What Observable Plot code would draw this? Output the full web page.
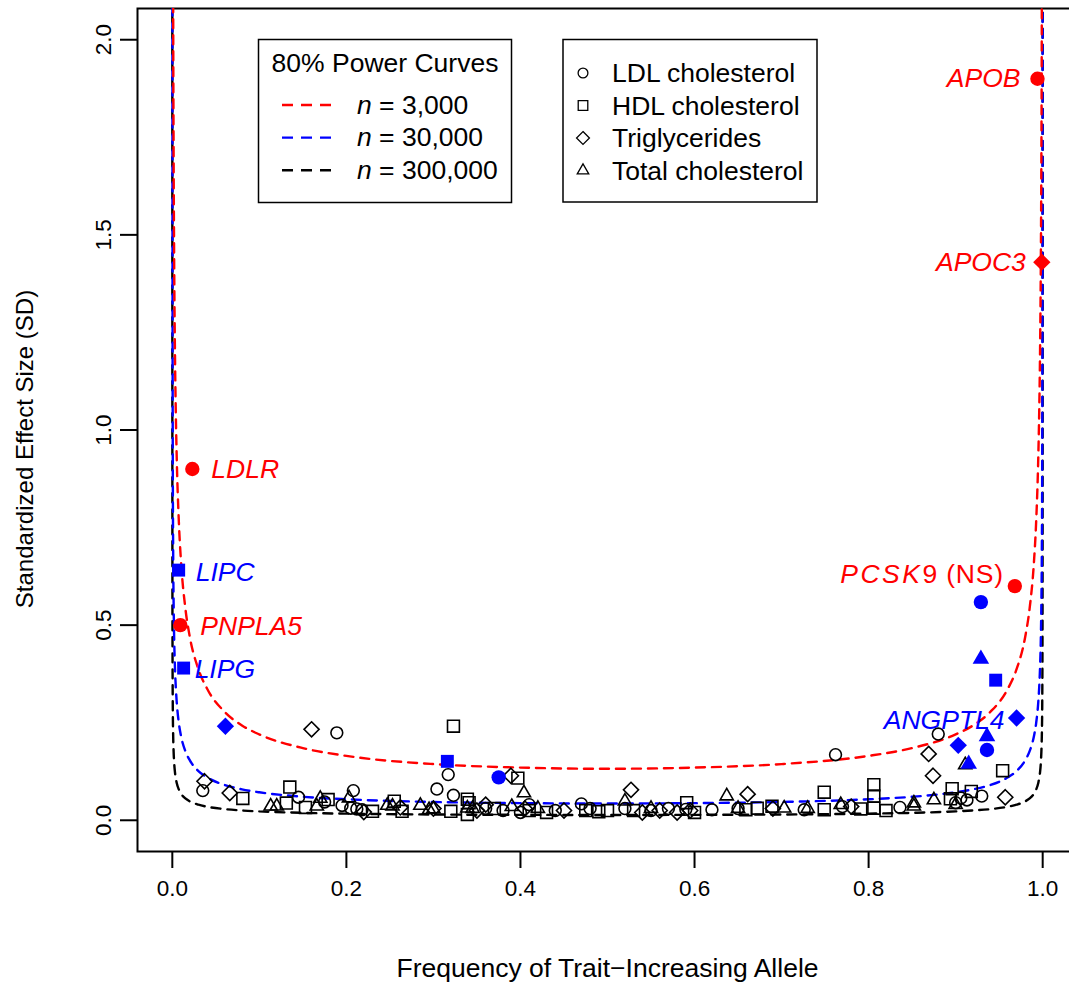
<!DOCTYPE html>
<html><head><meta charset="utf-8">
<script src="https://cdn.jsdelivr.net/npm/d3@7"></script>
<script src="https://cdn.jsdelivr.net/npm/@observablehq/plot@0.6"></script>
<style>
body{margin:0;background:#fff;}
#chart{position:relative;width:1069px;height:982px;overflow:hidden;background:#fff;}
#chart svg{overflow:hidden;}
</style></head><body><div id="chart"></div>
<script>
// ---- axis ticks ----
const xTicks = [0, 0.2, 0.4, 0.6, 0.8, 1.0];
const yTicks = [0, 0.5, 1.0, 1.5, 2.0];

// ---- 80% power curves ----
const curveFreq = [0.00001,0.00002,0.00005,0.0001,0.0002,0.0005,0.001,0.0015,0.002,0.003,0.004,0.005,0.0075,0.01,0.015,0.02,0.03,0.04,0.06,0.08,0.1,0.15,0.2,0.3,0.4,0.5,
  0.6,0.7,0.8,0.85,0.9,0.92,0.94,0.96,0.97,0.98,0.985,0.99,0.9925,0.995,0.996,0.997,0.998,0.9985,0.999,0.9995,0.9998,0.9999,0.99995,0.99998,0.99999];
const curveN3000 = [20.87,14.76,9.33,6.60,4.667,2.952,2.088,1.705,1.477,1.207,1.046,0.936,0.765,0.663,0.543,0.471,0.387,0.337,0.278,0.243,0.220,0.185,0.165,0.144,0.135,0.132,
  0.135,0.144,0.165,0.185,0.220,0.243,0.278,0.337,0.387,0.471,0.543,0.663,0.765,0.936,1.046,1.207,1.477,1.705,2.088,2.952,4.667,6.60,9.33,14.76,20.87];
const curveN30000 = [6.80,4.81,3.04,2.150,1.520,0.962,0.680,0.556,0.481,0.393,0.341,0.305,0.249,0.216,0.177,0.154,0.126,0.110,0.0905,0.0793,0.0717,0.0602,0.0538,0.0469,0.0439,0.0430,
  0.0439,0.0469,0.0538,0.0602,0.0717,0.0793,0.0905,0.110,0.126,0.154,0.177,0.216,0.249,0.305,0.341,0.393,0.481,0.556,0.680,0.962,1.520,2.150,3.04,4.81,6.80];
const curveN300000 = [2.150,1.521,0.962,0.680,0.481,0.304,0.215,0.176,0.152,0.124,0.108,0.0964,0.0788,0.0683,0.0559,0.0486,0.0399,0.0347,0.0286,0.0251,0.0227,0.0190,0.0170,0.0148,0.0139,0.0136,
  0.0139,0.0148,0.0170,0.0190,0.0227,0.0251,0.0286,0.0347,0.0399,0.0486,0.0559,0.0683,0.0788,0.0964,0.108,0.124,0.152,0.176,0.215,0.304,0.481,0.680,0.962,1.521,2.150];

// ---- known loci (open symbols) ----
const ldlFreq   = [0.035,0.145,0.175,0.189,0.195,0.208,0.205,0.212,0.218,0.304,0.317,0.323,0.36,0.38,0.40,0.41,0.44,0.47,0.48,0.52,0.55,0.57,0.59,0.62,0.65,0.726,0.762,0.77,0.836,0.88,0.906,0.913,0.93,0.90];
const ldlEffect = [0.076,0.059,0.047,0.224,0.038,0.076,0.031,0.029,0.027,0.080,0.117,0.064,0.030,0.025,0.020,0.040,0.025,0.042,0.030,0.030,0.025,0.030,0.028,0.027,0.030,0.027,0.168,0.035,0.033,0.221,0.057,0.052,0.062,0.045];
const hdlFreq   = [0.081,0.131,0.135,0.153,0.179,0.23,0.255,0.264,0.32,0.323,0.339,0.339,0.397,0.341,0.37,0.41,0.43,0.475,0.49,0.50,0.53,0.591,0.60,0.659,0.672,0.689,0.749,0.749,0.791,0.806,0.806,0.806,0.82,0.896,0.894,0.918,0.954];
const hdlEffect = [0.056,0.044,0.085,0.033,0.053,0.023,0.049,0.023,0.023,0.241,0.054,0.015,0.108,0.045,0.030,0.025,0.020,0.025,0.022,0.025,0.025,0.045,0.020,0.027,0.031,0.036,0.072,0.027,0.029,0.091,0.062,0.031,0.025,0.081,0.055,0.074,0.127];
const tgFreq    = [0.037,0.066,0.160,0.22,0.262,0.35,0.36,0.389,0.405,0.45,0.527,0.54,0.56,0.58,0.595,0.661,0.869,0.874,0.957,0.30,0.69,0.78];
const tgEffect  = [0.100,0.070,0.233,0.021,0.033,0.025,0.040,0.114,0.030,0.025,0.078,0.020,0.025,0.020,0.025,0.067,0.170,0.114,0.059,0.030,0.030,0.035];
const tcFreq    = [0.113,0.12,0.166,0.17,0.203,0.247,0.253,0.285,0.295,0.30,0.339,0.345,0.39,0.404,0.42,0.52,0.55,0.637,0.65,0.703,0.73,0.768,0.852,0.852,0.875,0.911,0.90];
const tcEffect  = [0.036,0.036,0.036,0.056,0.057,0.038,0.036,0.038,0.027,0.029,0.031,0.030,0.035,0.070,0.030,0.049,0.030,0.062,0.030,0.031,0.030,0.040,0.036,0.044,0.052,0.142,0.040];

// ---- newly highlighted loci (filled symbols) ----
const hiLabel  = ["APOB","APOC3","LDLR","PNPLA5","PCSK9 (NS)","LIPC","LIPG","","","","","","","ANGPTL4","","","",""];
const hiFreq   = [0.994,0.999,0.023,0.0092,0.968,0.0073,0.013,0.061,0.316,0.375,0.929,0.929,0.946,0.970,0.903,0.936,0.936,0.915];
const hiEffect = [1.90,1.43,0.90,0.50,0.60,0.641,0.39,0.241,0.151,0.110,0.559,0.413,0.359,0.262,0.192,0.215,0.180,0.144];
const hiTrait  = ["LDL","TG","LDL","LDL","LDL","HDL","HDL","TG","HDL","LDL","LDL","TC","HDL","TG","TG","TC","LDL","TC"];
const hiStudy  = ["n3000","n3000","n3000","n3000","n3000","n30000","n30000","n30000","n30000","n30000","n30000","n30000","n30000","n30000","n30000","n30000","n30000","n30000"];

// ---- legend texts ----
const powerTitle = "80% Power Curves";
const powerN = ["3,000","30,000","300,000"];
const traitNames = ["LDL cholesterol","HDL cholesterol","Triglycerides","Total cholesterol"];

// ---- build tables ----
const curves = [];
curveFreq.forEach((f,i)=>{
  curves.push({freq:f, effect:curveN3000[i], n:"n3000"});
  curves.push({freq:f, effect:curveN30000[i], n:"n30000"});
  curves.push({freq:f, effect:curveN300000[i], n:"n300000"});
});
const zip = (fs, es, t) => fs.map((f,i)=>({freq:f, effect:es[i], trait:t}));
const open = [...zip(ldlFreq,ldlEffect,"LDL"),...zip(hdlFreq,hdlEffect,"HDL"),...zip(tgFreq,tgEffect,"TG"),...zip(tcFreq,tcEffect,"TC")];
const hi = hiFreq.map((f,i)=>({freq:f, effect:hiEffect[i], trait:hiTrait[i], study:hiStudy[i], label:hiLabel[i]}));

const colors = {n3000:"#FF0000", n30000:"#0000FF", n300000:"#000000"};
const symbolOf = {LDL:"circle", HDL:"square", TG:"diamond2", TC:"triangle2"};
const openR = {LDL:5.9, HDL:6.7, TG:6.8, TC:6.3};
const fillR = {LDL:7.2, HDL:7.3, TG:7.8, TC:7.9};
const FONT = "'Liberation Sans', Arial, Helvetica, sans-serif";
const FS = 26.5;

const dash = "9,7";
const marks = [
  Plot.frame({stroke:"black", strokeWidth:2}),
  Plot.axisX({ticks:xTicks, tickSize:17, tickPadding:12, tickFormat:d3.format(".1f"), fontSize:22.5, label:null, strokeWidth:2}),
  Plot.axisY({ticks:yTicks, tickSize:17, tickPadding:10, tickRotate:-90, tickFormat:d3.format(".1f"), fontSize:22.5, label:null, strokeWidth:2}),
  Plot.text(["Frequency of Trait\u2212Increasing Allele"], {frameAnchor:"bottom", textAnchor:"middle", lineAnchor:"middle", dy:117, fontSize:FS}),
  Plot.text(["Standardized Effect Size (SD)"], {frameAnchor:"left", textAnchor:"middle", lineAnchor:"middle", dx:-112, dy:19, rotate:-90, fontSize:24}),
];
for (const n of ["n300000","n30000","n3000"]) {
  marks.push(Plot.line(curves.filter(d=>d.n===n), {x:"freq", y:"effect", stroke:colors[n], strokeWidth:2.4, strokeDasharray:dash, curve:"monotone-x", clip:true}));
}
for (const t of ["LDL","HDL","TG","TC"]) {
  marks.push(Plot.dot(open.filter(d=>d.trait===t), {x:"freq", y:"effect", symbol:()=>symbolOf[t], r:openR[t], stroke:"black", strokeWidth:1.6, fill:"none"}));
}
for (const t of ["LDL","HDL","TG","TC"]) {
  marks.push(Plot.dot(hi.filter(d=>d.trait===t), {x:"freq", y:"effect", symbol:()=>symbolOf[t], r:fillR[t], fill:d=>colors[d.study], stroke:"none"}));
}
const labOff = {"APOB":[-17,0],"APOC3":[-16,0],"LDLR":[19,0],"PNPLA5":[20,1],"PCSK9 (NS)":[-11,-12],"LIPC":[17,2],"LIPG":[11,1],"ANGPTL4":[-12,2]};
for (const name of Object.keys(labOff)) {
  const rows = hi.filter(d=>d.label===name);
  marks.push(Plot.text(rows, {x:"freq", y:"effect", text:"label", fill:d=>colors[d.study], fontSize:FS, fontStyle:"italic",
    textAnchor: labOff[name][0] < 0 ? "end" : "start", dx:labOff[name][0], dy:labOff[name][1]}));
}

const chart = Plot.plot({
  width:1069, height:982,
  marginLeft:137, marginRight:-8, marginTop:8, marginBottom:131,
  x:{domain:[-0.04,1.04]},
  y:{domain:[-0.08,2.08]},
  style:{fontFamily:FONT, background:"white", color:"black"},
  marks
});
document.getElementById("chart").appendChild(chart);

// PCSK9: italic, letter-spaced gene symbol, upright suffix
d3.select(chart).selectAll("text").each(function(){
  if (this.textContent === "PCSK9 (NS)") {
    const s = d3.select(this).style("font-style","normal").text(null);
    s.append("tspan").attr("font-style","italic").attr("letter-spacing","2.5").text("PCSK");
    s.append("tspan").attr("font-style","normal").attr("letter-spacing","0.8").text("9 (NS)");
  }
});

// ---- legends (overlay on the plot svg) ----
const svg = d3.select(chart);
const g1 = svg.append("g").attr("font-family", FONT).attr("text-anchor","start");
g1.append("rect").attr("x",258.5).attr("y",39.5).attr("width",253).attr("height",163).attr("fill","white").attr("stroke","black").attr("stroke-width",1.5);
g1.append("text").attr("x",385).attr("y",71.7).attr("text-anchor","middle").attr("font-size",FS).text(powerTitle);
["n3000","n30000","n300000"].forEach((n,i)=>{
  const yy = 105 + i*32.6;
  g1.append("line").attr("x1",282).attr("x2",332).attr("y1",yy).attr("y2",yy).attr("stroke",colors[n]).attr("stroke-width",2.4).attr("stroke-dasharray","11,8");
  const t = g1.append("text").attr("x",357).attr("y",yy+8.5).attr("font-size",FS).attr("text-anchor","start");
  t.append("tspan").attr("font-style","italic").text("n");
  t.append("tspan").text(" = " + powerN[i]);
});
const g2 = svg.append("g").attr("font-family", FONT).attr("text-anchor","start");
g2.append("rect").attr("x",563).attr("y",39.5).attr("width",254).attr("height",162.5).attr("fill","white").attr("stroke","black").attr("stroke-width",1.5);
const legSym = {LDL:d3.symbolCircle, HDL:d3.symbolSquare, TG:d3.symbolDiamond2, TC:d3.symbolTriangle2};
const legR = {LDL:4.9, HDL:5.4, TG:5.8, TC:5.5};
["LDL","HDL","TG","TC"].forEach((t,i)=>{
  const yy = 73 + i*32.5;
  g2.append("path").attr("d", d3.symbol(legSym[t], Math.PI*legR[t]*legR[t])()).attr("transform",`translate(583,${yy})`).attr("fill","none").attr("stroke","black").attr("stroke-width",1.3);
  g2.append("text").attr("x",612).attr("y",yy+9).attr("font-size",FS).attr("text-anchor","start").text(traitNames[i]);
});
</script>
</body></html>
